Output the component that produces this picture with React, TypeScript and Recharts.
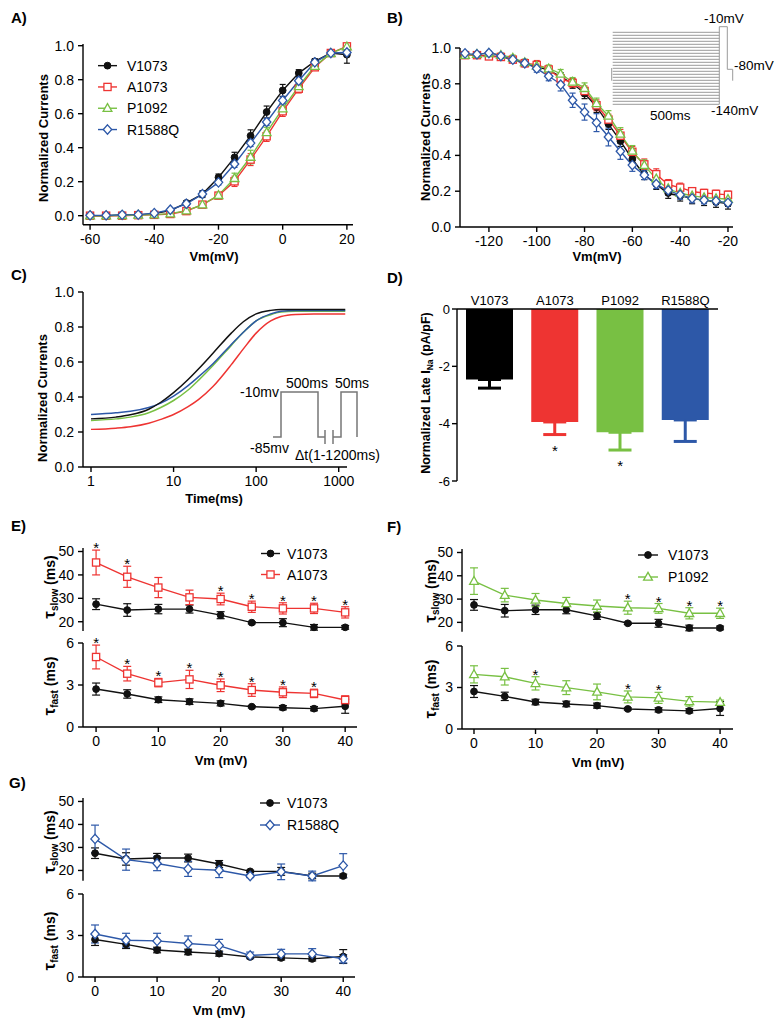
import React from "react";
import { ComposedChart, Line, Bar, XAxis, YAxis, ErrorBar, Legend } from "recharts";

const FONT = '"Liberation Sans", Arial, Helvetica, sans-serif';
const BLACK = "#111111";
const RED = "#ee3432";
const GREEN = "#78c043";
const BLUE = "#2d58a8";

const genotypes = ["V1073", "A1073", "P1092", "R1588Q"];
const genoColor: Record<string, string> = { V1073: BLACK, A1073: RED, P1092: GREEN, R1588Q: BLUE };
const genoMarker: Record<string, string> = { V1073: "circle", A1073: "square", P1092: "triangle", R1588Q: "diamond" };

// A) activation
const actVm = [-60, -55, -50, -45, -40, -35, -30, -25, -20, -15, -10, -5, 0, 5, 10, 15, 20];
const actV1073 = [0, 0, 0.005, 0.005, 0.012, 0.03, 0.075, 0.127, 0.225, 0.343, 0.47, 0.61, 0.737, 0.839, 0.908, 0.957, 0.947];
const actV1073Err = [0, 0, 0, 0, 0.005, 0.008, 0.01, 0.02, 0.02, 0.03, 0.035, 0.035, 0.035, 0.02, 0.015, 0.01, 0.05];
const actA1073 = [0, 0, 0, 0.003, 0.005, 0.01, 0.027, 0.065, 0.118, 0.202, 0.33, 0.467, 0.614, 0.747, 0.873, 0.957, 0.996];
const actA1073Err = [0, 0, 0, 0, 0, 0.005, 0.008, 0.01, 0.015, 0.03, 0.035, 0.03, 0.03, 0.025, 0.015, 0.01, 0.004];
const actP1092 = [0, 0, 0.002, 0.004, 0.006, 0.012, 0.03, 0.065, 0.12, 0.22, 0.345, 0.49, 0.63, 0.76, 0.88, 0.955, 0.995];
const actP1092Err = [0, 0, 0, 0, 0, 0.005, 0.008, 0.01, 0.015, 0.03, 0.04, 0.03, 0.03, 0.02, 0.015, 0.01, 0.005];
const actR1588Q = [0.002, 0.002, 0.005, 0.006, 0.015, 0.035, 0.07, 0.127, 0.196, 0.304, 0.427, 0.551, 0.678, 0.794, 0.902, 0.957, 0.96];
const actR1588QErr = [0, 0, 0, 0, 0.004, 0.006, 0.01, 0.015, 0.015, 0.02, 0.02, 0.02, 0.02, 0.02, 0.015, 0.01, 0.02];

// B) steady-state inactivation
const inactVm = [-130, -125, -120, -115, -110, -105, -100, -95, -90, -85, -80, -75, -70, -65, -60, -55, -50, -45, -40, -35, -30, -25, -20];
const inactV1073 = [0.965, 0.96, 0.955, 0.95, 0.935, 0.915, 0.895, 0.875, 0.84, 0.8, 0.745, 0.67, 0.575, 0.48, 0.38, 0.295, 0.24, 0.19, 0.175, 0.16, 0.15, 0.14, 0.13];
const inactV1073Err = [0.01, 0.01, 0.01, 0.012, 0.015, 0.018, 0.02, 0.02, 0.022, 0.025, 0.028, 0.03, 0.03, 0.03, 0.03, 0.03, 0.03, 0.03, 0.03, 0.03, 0.03, 0.03, 0.03];
const inactA1073 = [0.96, 0.96, 0.953, 0.95, 0.935, 0.915, 0.905, 0.88, 0.83, 0.805, 0.76, 0.68, 0.6, 0.51, 0.42, 0.35, 0.295, 0.24, 0.22, 0.2, 0.19, 0.185, 0.18];
const inactA1073Err = [0.01, 0.01, 0.01, 0.012, 0.015, 0.02, 0.025, 0.02, 0.022, 0.025, 0.028, 0.03, 0.03, 0.035, 0.03, 0.03, 0.03, 0.025, 0.025, 0.02, 0.02, 0.02, 0.02];
const inactP1092 = [0.96, 0.965, 0.97, 0.96, 0.945, 0.92, 0.9, 0.885, 0.855, 0.81, 0.775, 0.69, 0.62, 0.52, 0.425, 0.345, 0.27, 0.215, 0.19, 0.175, 0.165, 0.16, 0.155];
const inactP1092Err = [0.01, 0.01, 0.01, 0.012, 0.015, 0.018, 0.02, 0.02, 0.025, 0.025, 0.03, 0.03, 0.03, 0.035, 0.03, 0.03, 0.025, 0.025, 0.025, 0.02, 0.02, 0.02, 0.02];
const inactR1588Q = [0.97, 0.965, 0.972, 0.955, 0.935, 0.915, 0.885, 0.842, 0.795, 0.708, 0.642, 0.583, 0.503, 0.423, 0.346, 0.29, 0.24, 0.205, 0.18, 0.16, 0.15, 0.145, 0.135];
const inactR1588QErr = [0.01, 0.01, 0.01, 0.01, 0.015, 0.018, 0.02, 0.025, 0.035, 0.04, 0.045, 0.05, 0.05, 0.045, 0.035, 0.025, 0.025, 0.025, 0.025, 0.025, 0.02, 0.02, 0.02];

// C) recovery from inactivation (fitted curves)
const recTime = [1, 2, 3, 5, 7, 10, 15, 20, 30, 50, 70, 100, 150, 200, 300, 500, 1000, 1200];
const recV1073 = [0.275, 0.285, 0.298, 0.33, 0.37, 0.425, 0.5, 0.56, 0.65, 0.765, 0.83, 0.875, 0.895, 0.9, 0.9, 0.9, 0.9, 0.9];
const recA1073 = [0.215, 0.222, 0.23, 0.25, 0.272, 0.3, 0.345, 0.385, 0.46, 0.585, 0.675, 0.765, 0.835, 0.86, 0.872, 0.875, 0.875, 0.875];
const recP1092 = [0.265, 0.275, 0.285, 0.31, 0.34, 0.38, 0.44, 0.495, 0.58, 0.695, 0.77, 0.835, 0.87, 0.885, 0.89, 0.89, 0.89, 0.89];
const recR1588Q = [0.3, 0.31, 0.318, 0.34, 0.365, 0.405, 0.465, 0.515, 0.59, 0.7, 0.77, 0.835, 0.875, 0.89, 0.895, 0.895, 0.895, 0.895];

// D) late INa
const lateMean = [-2.46, -3.94, -4.3, -3.87];
const lateSem = [0.3, 0.44, 0.62, 0.75];
const lateSig = [false, true, true, false];

// E-G) time constants
const tauVm = [0, 5, 10, 15, 20, 25, 30, 35, 40];
const slowV1073 = [27.5, 25.0, 25.4, 25.4, 22.8, 19.6, 19.6, 17.6, 17.6];
const slowV1073Err = [2.3, 2.7, 2.0, 1.7, 1.5, 0.5, 1.7, 1.2, 0.8];
const fastV1073 = [2.71, 2.36, 1.95, 1.81, 1.69, 1.45, 1.38, 1.31, 1.48];
const fastV1073Err = [0.43, 0.3, 0.2, 0.2, 0.18, 0.08, 0.15, 0.15, 0.5];
const slowA1073 = [45.3, 39.2, 34.6, 30.4, 29.7, 26.4, 25.7, 25.7, 24.0];
const slowA1073Err = [5.3, 4.5, 4.3, 3.1, 2.5, 2.4, 2.4, 2.2, 2.4];
const fastA1073 = [5.0, 3.81, 3.17, 3.4, 2.98, 2.64, 2.48, 2.4, 1.93];
const fastA1073Err = [0.85, 0.52, 0.3, 0.65, 0.45, 0.45, 0.38, 0.3, 0.3];
const slowP1092 = [37.7, 31.7, 29.6, 28.1, 27.0, 26.3, 26.0, 23.9, 23.9];
const slowP1092Err = [5.7, 2.9, 2.8, 2.6, 2.6, 2.8, 2.1, 2.4, 2.2];
const fastP1092 = [3.95, 3.78, 3.3, 2.99, 2.68, 2.32, 2.25, 2.0, 1.94];
const fastP1092Err = [0.62, 0.6, 0.48, 0.5, 0.57, 0.43, 0.4, 0.34, 0.15];
const slowR1588Q = [33.7, 24.7, 23.0, 20.7, 20.1, 17.6, 19.4, 17.6, 22.1];
const slowR1588QErr = [6.0, 4.6, 3.1, 3.3, 3.2, 0.7, 3.4, 2.1, 5.2];
const fastR1588Q = [3.11, 2.66, 2.61, 2.42, 2.27, 1.56, 1.67, 1.67, 1.32];
const fastR1588QErr = [0.65, 0.5, 0.55, 0.55, 0.45, 0.24, 0.33, 0.38, 0.3];
const sigSlowA1073 = [0, 5, 20, 25, 30, 35, 40];
const sigFastA1073 = [0, 5, 10, 15, 20, 25, 30, 35];
const sigSlowP1092 = [25, 30, 35, 40];
const sigFastP1092 = [10, 25, 30];

type Box = { x0: number; y0: number; x1: number; y1: number };
const YW = 50;
const PAD = 14;
const XH = 30;

function frame(b: Box, xh = XH, topAxis = 0) {
  return {
    left: b.x0 - YW,
    top: b.y0 - PAD - topAxis,
    width: YW + (b.x1 - b.x0) + PAD,
    height: PAD + topAxis + (b.y1 - b.y0) + xh + PAD,
    margin: { top: PAD, right: PAD, bottom: PAD, left: 0 },
  };
}

const axisProps = {
  axisLine: { stroke: "#000", strokeWidth: 1.4 },
  tickLine: { stroke: "#000", strokeWidth: 1.4 },
  tick: { fill: "#000", fontSize: 14 },
  tickSize: 5,
  tickMargin: 4,
};

function Marker({ kind, cx, cy, color }: { kind: string; cx: number; cy: number; color: string }) {
  if (cx == null || cy == null || Number.isNaN(cy)) return null;
  if (kind === "circle") return <circle cx={cx} cy={cy} r={3.4} fill={color} stroke={color} />;
  if (kind === "square")
    return <rect x={cx - 3.6} y={cy - 3.6} width={7.2} height={7.2} fill="#fff" stroke={color} strokeWidth={1.3} />;
  if (kind === "triangle")
    return <polygon points={`${cx},${cy - 4.6} ${cx + 4.4},${cy + 3.2} ${cx - 4.4},${cy + 3.2}`} fill="#fff" stroke={color} strokeWidth={1.3} />;
  return <polygon points={`${cx},${cy - 4.7} ${cx + 4.2},${cy} ${cx},${cy + 4.7} ${cx - 4.2},${cy}`} fill="#fff" stroke={color} strokeWidth={1.3} />;
}

const dotFor = (g: string) => (p: any) => (
  <Marker key={`${g}-${p.index}`} kind={genoMarker[g]} cx={p.cx} cy={p.cy} color={genoColor[g]} />
);

const starDot = (dy: number) => (p: any) => {
  if (p.cy == null || p.value == null) return <g key={`s${p.index}`} />;
  return (
    <text key={`s${p.index}`} x={p.cx} y={p.cy + dy} textAnchor="middle" fontSize={15} fill="#000">
      *
    </text>
  );
};

const legendContent = (gap: number, lineLen: number, textGap: number) => (props: any) => {
  const items = (props.payload || [])
    .filter((e: any) => genoColor[e.value])
    .sort((a: any, b: any) => genotypes.indexOf(a.value) - genotypes.indexOf(b.value));
  return (
    <svg width={lineLen + textGap + 70} height={gap * items.length} style={{ display: "block", overflow: "visible" }}>
      {items.map((e: any, i: number) => {
        const y = gap * i + gap / 2;
        const g = e.value as string;
        return (
          <g key={g}>
            <line x1={0} x2={lineLen} y1={y} y2={y} stroke={genoColor[g]} strokeWidth={1.4} />
            <Marker kind={genoMarker[g]} cx={lineLen / 2} cy={y} color={genoColor[g]} />
            <text x={lineLen + textGap} y={y + 5} fontSize={14} fill="#000">
              {g}
            </text>
          </g>
        );
      })}
    </svg>
  );
};

function rowsOf(xKey: string, xs: number[], series: Record<string, number[]>) {
  return xs.map((x, i) => {
    const r: Record<string, number> = { [xKey]: x };
    Object.keys(series).forEach((k) => (r[k] = series[k][i]));
    return r;
  });
}

const actRows = rowsOf("vm", actVm, {
  V1073: actV1073, V1073Err: actV1073Err, A1073: actA1073, A1073Err: actA1073Err,
  P1092: actP1092, P1092Err: actP1092Err, R1588Q: actR1588Q, R1588QErr: actR1588QErr,
});
const inactRows = rowsOf("vm", inactVm, {
  V1073: inactV1073, V1073Err: inactV1073Err, A1073: inactA1073, A1073Err: inactA1073Err,
  P1092: inactP1092, P1092Err: inactP1092Err, R1588Q: inactR1588Q, R1588QErr: inactR1588QErr,
});
const recRows = rowsOf("t", recTime, { V1073: recV1073, A1073: recA1073, P1092: recP1092, R1588Q: recR1588Q });

const lateRows = genotypes.map((g, i) => {
  const r: Record<string, any> = { name: g, star: lateSig[i] ? lateMean[i] - lateSem[i] : null };
  r[`m${i}`] = lateMean[i];
  r[`e${i}`] = [lateSem[i], 0];
  return r;
});

function tauRows(ctl: number[], ctlErr: number[], mut: number[], mutErr: number[], sig: number[], name: string) {
  return tauVm.map((vm, i) => ({
    vm,
    V1073: ctl[i],
    V1073Err: ctlErr[i],
    [name]: mut[i],
    [`${name}Err`]: mutErr[i],
    star: sig.includes(vm) ? mut[i] + mutErr[i] : null,
  }));
}

function seriesLines(names: string[], type: "linear" | "monotone", cap: number) {
  return names.map((g) => (
    <Line
      key={g}
      dataKey={g}
      name={g}
      type={type}
      stroke={genoColor[g]}
      strokeWidth={1.4}
      dot={dotFor(g)}
      activeDot={false}
      isAnimationActive={false}
    >
      <ErrorBar dataKey={`${g}Err`} width={cap} strokeWidth={1.2} stroke={genoColor[g]} direction="y" isAnimationActive={false} />
    </Line>
  ));
}

function CurvePanel({ box, rows, xDomain, xTicks, yDomain, type, legend, cap }: any) {
  const f = frame(box);
  return (
    <div style={{ position: "absolute", left: f.left, top: f.top }}>
      <ComposedChart width={f.width} height={f.height} margin={f.margin} data={rows}>
        <XAxis dataKey="vm" type="number" domain={xDomain} ticks={xTicks} height={XH} {...axisProps} />
        <YAxis
          type="number"
          domain={yDomain}
          ticks={[0, 0.2, 0.4, 0.6, 0.8, 1]}
          tickFormatter={(v: number) => v.toFixed(1)}
          width={YW}
          {...axisProps}
        />
        {seriesLines(genotypes, type, cap)}
        {legend && (
          <Legend
            layout="vertical"
            align="center"
            verticalAlign="middle"
            wrapperStyle={{ left: legend.x - f.left, top: legend.y - f.top, width: "auto" }}
            content={legendContent(legend.gap, legend.len, legend.tg)}
          />
        )}
      </ComposedChart>
    </div>
  );
}

function RecoveryPanel() {
  const box = { x0: 83, y0: 292, x1: 347, y1: 467 };
  const f = frame(box);
  return (
    <div style={{ position: "absolute", left: f.left, top: f.top }}>
      <ComposedChart width={f.width} height={f.height} margin={f.margin} data={recRows}>
        <XAxis dataKey="t" type="number" scale="log" domain={[0.8, 1260]} ticks={[1, 10, 100, 1000]} height={XH} {...axisProps} />
        <YAxis type="number" domain={[0, 1]} ticks={[0, 0.2, 0.4, 0.6, 0.8, 1]} tickFormatter={(v: number) => v.toFixed(1)} width={YW} {...axisProps} />
        {["A1073", "P1092", "R1588Q", "V1073"].map((g) => (
          <Line key={g} dataKey={g} name={g} type="monotone" stroke={genoColor[g]} strokeWidth={1.5} dot={false} activeDot={false} isAnimationActive={false} />
        ))}
      </ComposedChart>
    </div>
  );
}

function LatePanel() {
  const box = { x0: 457, y0: 309, x1: 718, y1: 481 };
  const topH = 24;
  const f = frame(box, 0, topH);
  return (
    <div style={{ position: "absolute", left: f.left, top: f.top }}>
      <ComposedChart width={f.width} height={f.height} margin={f.margin} data={lateRows}>
        <XAxis
          dataKey="name"
          type="category"
          orientation="top"
          height={topH}
          interval={0}
          tickLine={false}
          tickSize={0}
          tickMargin={4}
          axisLine={{ stroke: "#000", strokeWidth: 1.5 }}
          tick={{ fill: "#000", fontSize: 13 }}
        />
        <YAxis type="number" domain={[-6, 0]} ticks={[-6, -4, -2, 0]} width={YW} {...axisProps} tick={{ fill: "#000", fontSize: 13 }} tickMargin={2} />
        {genotypes.map((g, i) => (
          <Bar key={g} dataKey={`m${i}`} stackId="late" fill={genoColor[g] === BLACK ? "#000" : genoColor[g]} barSize={47} isAnimationActive={false}>
            <ErrorBar dataKey={`e${i}`} width={11.5} strokeWidth={3} stroke={genoColor[g] === BLACK ? "#000" : genoColor[g]} direction="y" isAnimationActive={false} />
          </Bar>
        ))}
        <Line dataKey="star" stroke="none" dot={starDot(21)} activeDot={false} legendType="none" isAnimationActive={false} />
      </ComposedChart>
    </div>
  );
}

function TauPanel({ mut, slowRows, fastRows, x0, x1, xDomain, slowY0, slowY1, fastY0, fastY1, legend }: any) {
  const up = frame({ x0, x1, y0: slowY0, y1: slowY1 }, 0);
  const lo = frame({ x0, x1, y0: fastY0, y1: fastY1 });
  const names = ["V1073", mut];
  return (
    <>
      <div style={{ position: "absolute", left: up.left, top: up.top }}>
        <ComposedChart width={up.width} height={up.height} margin={up.margin} data={slowRows}>
          <XAxis dataKey="vm" type="number" domain={xDomain} hide />
          <YAxis
            type="number"
            domain={[16, 51.5]}
            ticks={[16, 20, 30, 40, 50]}
            tickFormatter={(v: number) => (v === 16 ? "" : String(v))}
            width={YW}
            {...axisProps}
          />
          {seriesLines(names, "linear", 4)}
          <Line dataKey="star" stroke="none" dot={starDot(3)} activeDot={false} legendType="none" isAnimationActive={false} />
          <Legend
            layout="vertical"
            align="center"
            verticalAlign="middle"
            wrapperStyle={{ left: legend.x - up.left, top: legend.y - up.top, width: "auto" }}
            content={legendContent(legend.gap, legend.len, legend.tg)}
          />
        </ComposedChart>
      </div>
      <div style={{ position: "absolute", left: lo.left, top: lo.top }}>
        <ComposedChart width={lo.width} height={lo.height} margin={lo.margin} data={fastRows}>
          <XAxis dataKey="vm" type="number" domain={xDomain} ticks={[0, 10, 20, 30, 40]} height={XH} {...axisProps} />
          <YAxis type="number" domain={[0, 6]} ticks={[0, 3, 6]} width={YW} {...axisProps} />
          {seriesLines(names, "linear", 4)}
          <Line dataKey="star" stroke="none" dot={starDot(3)} activeDot={false} legendType="none" isAnimationActive={false} />
        </ComposedChart>
      </div>
    </>
  );
}

function VTitle({ x, y, children, size = 13 }: any) {
  return (
    <text x={x} y={y} transform={`rotate(-90 ${x} ${y})`} textAnchor="middle" fontSize={size} fontWeight="bold" fill="#000">
      {children}
    </text>
  );
}

function TauTitle({ x, y, sub }: { x: number; y: number; sub: string }) {
  return (
    <text x={x} y={y} transform={`rotate(-90 ${x} ${y})`} textAnchor="middle" fontWeight="bold" fill="#000" fontSize={14}>
      <tspan fontSize={17}>τ</tspan>
      <tspan fontSize={10} dy={3}>{sub}</tspan>
      <tspan dy={-3}> (ms)</tspan>
    </text>
  );
}

function Overlay() {
  const steps = Array.from({ length: 25 }, (_, i) => 32.3 + i * 3);
  const label = (t: string, x: number, y: number) => (
    <text x={x} y={y} fontSize={15} fontWeight="bold" fill="#000">
      {t}
    </text>
  );
  const hb = (t: string, x: number, y: number) => (
    <text x={x} y={y} textAnchor="middle" fontSize={13} fontWeight="bold" fill="#000">
      {t}
    </text>
  );
  return (
    <svg width={782} height={1027} style={{ position: "absolute", left: 0, top: 0, pointerEvents: "none" }}>
      {label("A)", 11, 23)}
      {label("B)", 387, 23)}
      {label("C)", 11, 280)}
      {label("D)", 387, 283)}
      {label("E)", 11, 531)}
      {label("F)", 387, 532)}
      {label("G)", 9, 788)}

      <VTitle x={47.5} y={138}>Normalized Currents</VTitle>
      <VTitle x={430} y={137}>Normalized Currents</VTitle>
      <VTitle x={47} y={398}>Normalized Currents</VTitle>
      <text x={430} y={393} transform="rotate(-90 430 393)" textAnchor="middle" fontSize={12.5} fontWeight="bold" fill="#000">
        Normalized Late I<tspan fontSize={8.5} dy={3}>Na</tspan>
        <tspan dy={-3}> (pA/pF)</tspan>
      </text>
      {hb("Vm(mV)", 214, 261)}
      {hb("Vm(mV)", 597, 261)}
      {hb("Time(ms)", 214, 503)}
      {hb("Vm (mV)", 221, 765)}
      {hb("Vm (mV)", 598, 767)}
      {hb("Vm (mV)", 219, 1015)}

      <TauTitle x={55} y={587} sub="slow" />
      <TauTitle x={55} y={686} sub="fast" />
      <TauTitle x={436} y={591} sub="slow" />
      <TauTitle x={436} y={689} sub="fast" />
      <TauTitle x={55} y={842} sub="slow" />
      <TauTitle x={55} y={941} sub="fast" />

      {/* B inset: inactivation protocol */}
      <g stroke="#9a9a9a" strokeWidth={1} fill="none">
        {steps.map((y) => (
          <line key={y} x1={612.7} x2={719.3} y1={y} y2={y} />
        ))}
        <polyline points="611.7,68 611.7,80.7" />
        <polyline points="719.3,104.3 719.3,26.7 727.3,26.7 727.3,69.3 732.7,69.3 732.7,80.7" />
      </g>
      <g fontSize={13.5} fill="#000">
        <text x={704} y={23.3}>-10mV</text>
        <text x={734} y={70}>-80mV</text>
        <text x={711} y={115}>-140mV</text>
        <text x={650} y={120}>500ms</text>
      </g>

      {/* C inset: recovery protocol */}
      <g stroke="#777" strokeWidth={1.5} fill="none">
        <polyline points="273,437 281,437 281,392 318,392 318,437 325,437" />
        <line x1={325} x2={325} y1={430} y2={444} />
        <line x1={333} x2={333} y1={430} y2={444} />
        <polyline points="333,437 341,437 341,392 357,392 357,437" />
      </g>
      <g fontSize={14} fill="#000">
        <text x={279} y={397} textAnchor="end">-10mv</text>
        <text x={307} y={388} textAnchor="middle">500ms</text>
        <text x={352} y={388} textAnchor="middle">50ms</text>
        <text x={250} y={453}>-85mv</text>
        <text x={295} y={460}>Δt(1-1200ms)</text>
      </g>
    </svg>
  );
}

export default function App() {
  const eSlow = tauRows(slowV1073, slowV1073Err, slowA1073, slowA1073Err, sigSlowA1073, "A1073");
  const eFast = tauRows(fastV1073, fastV1073Err, fastA1073, fastA1073Err, sigFastA1073, "A1073");
  const fSlow = tauRows(slowV1073, slowV1073Err, slowP1092, slowP1092Err, sigSlowP1092, "P1092");
  const fFast = tauRows(fastV1073, fastV1073Err, fastP1092, fastP1092Err, sigFastP1092, "P1092");
  const gSlow = tauRows(slowV1073, slowV1073Err, slowR1588Q, slowR1588QErr, [], "R1588Q");
  const gFast = tauRows(fastV1073, fastV1073Err, fastR1588Q, fastR1588QErr, [], "R1588Q");

  return (
    <div style={{ position: "absolute", left: 0, top: 0, width: 782, height: 1027, background: "#fff", fontFamily: FONT, overflow: "hidden" }}>
      <CurvePanel
        box={{ x0: 83, y0: 44.3, x1: 353, y1: 225 }}
        rows={actRows}
        xDomain={[-62.2, 21.9]}
        xTicks={[-60, -40, -20, 0, 20]}
        yDomain={[-0.053, 1.01]}
        type="linear"
        cap={3}
        legend={{ x: 98, y: 55.3, gap: 21.3, len: 19, tg: 10 }}
      />
      <CurvePanel
        box={{ x0: 460, y0: 48, x1: 733, y1: 227 }}
        rows={inactRows}
        xDomain={[-132.1, -17.9]}
        xTicks={[-120, -100, -80, -60, -40, -20]}
        yDomain={[0, 1]}
        type="monotone"
        cap={3}
      />
      <RecoveryPanel />
      <LatePanel />
      <TauPanel
        mut="A1073"
        slowRows={eSlow}
        fastRows={eFast}
        x0={83}
        x1={357}
        xDomain={[-2.1, 41.9]}
        slowY0={547.5}
        slowY1={630.6}
        fastY0={643}
        fastY1={727}
        legend={{ x: 261, y: 542.5, gap: 21, len: 19, tg: 7 }}
      />
      <TauPanel
        mut="P1092"
        slowRows={fSlow}
        fastRows={fFast}
        x0={462}
        x1={733}
        xDomain={[-1.95, 42.1]}
        slowY0={548.5}
        slowY1={631.2}
        fastY0={646}
        fastY1={729}
        legend={{ x: 638, y: 544, gap: 22, len: 20, tg: 10 }}
      />
      <TauPanel
        mut="R1588Q"
        slowRows={gSlow}
        fastRows={gFast}
        x0={83}
        x1={355}
        xDomain={[-1.94, 41.9]}
        slowY0={797.5}
        slowY1={880.3}
        fastY0={894}
        fastY1={977}
        legend={{ x: 260, y: 792, gap: 22, len: 20, tg: 7 }}
      />
      <Overlay />
    </div>
  );
}
